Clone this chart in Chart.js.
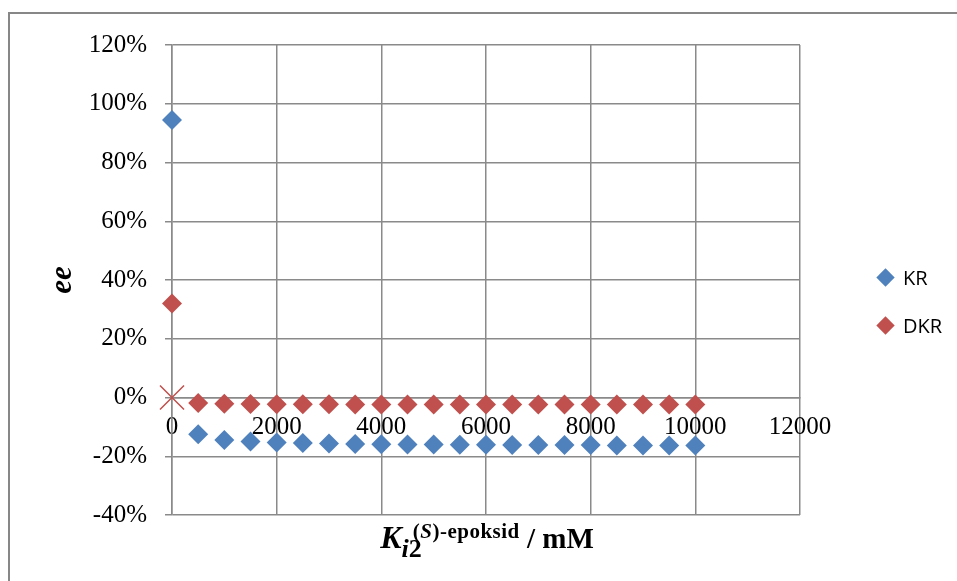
<!DOCTYPE html>
<html>
<head>
<meta charset="utf-8">
<script src="https://cdn.jsdelivr.net/npm/chart.js@4.4.0/dist/chart.umd.min.js"></script>
<style>
  html, body { margin: 0; padding: 0; background: #fff; overflow: hidden; }
  #wrap { position: relative; width: 957px; height: 581px; }
  #frame { position: absolute; left: 8px; top: 12px; width: 1200px; height: 800px;
           border-left: 2px solid #878787; border-top: 2px solid #878787; }
  canvas { position: absolute; left: 0; top: 0; }
  #xtitle { position: absolute; left: 487px; top: 522px; transform: translateX(-50%);
            font-family: 'Liberation Serif', serif; font-weight: bold; white-space: nowrap;
            line-height: 30px; font-size: 32px; color: #000; }
  #xtitle .sub { font-size: 26px; position: relative; top: 9px; }
  #xtitle .sup { font-size: 21px; position: relative; top: -10px; margin-left: -9px; letter-spacing: 0.5px; }
  #xtitle .unit { font-size: 29px; }
  .leg-item { position: absolute; left: 876px; height: 26px; display: flex; align-items: center;
              font-family: 'Open Sans', sans-serif; font-size: 20px; color: #000; }
  .leg-mark { width: 13px; height: 13px; transform: rotate(45deg); margin: 0 11px 0 3px; }
</style>
</head>
<body>
<div id="wrap">
  <div id="frame"></div>
  <canvas id="chart" width="957" height="581"></canvas>
  <div id="xtitle"><i>K</i><span class="sub"><i>i</i>2</span><span class="sup">(<i>S</i>)-epoksid</span><span class="unit"> / mM</span></div>
</div>
<script>
// Ki2 values (mM)
const xValues = [0, 500, 1000, 1500, 2000, 2500, 3000, 3500, 4000, 4500, 5000,
                 5500, 6000, 6500, 7000, 7500, 8000, 8500, 9000, 9500, 10000];
// ee, KR
const krValues = [0.945, -0.125, -0.145, -0.150, -0.153, -0.155, -0.157, -0.158, -0.159, -0.160, -0.160,
                  -0.161, -0.161, -0.162, -0.162, -0.162, -0.162, -0.163, -0.163, -0.163, -0.163];
// ee, DKR
const dkrValues = [0.32, -0.019, -0.021, -0.022, -0.023, -0.023, -0.023, -0.024, -0.024, -0.024, -0.024,
                   -0.024, -0.024, -0.024, -0.024, -0.024, -0.024, -0.024, -0.024, -0.024, -0.024];
// lone cross marker at the origin
const crossX = [0];
const crossY = [0];

const seriesNames = ['KR', 'DKR'];
const seriesColors = ['#4F81BD', '#C0504D'];

const xTicks = [0, 2000, 4000, 6000, 8000, 10000, 12000];
const yTicks = [-0.4, -0.2, 0, 0.2, 0.4, 0.6, 0.8, 1.0, 1.2];

const gridColor = '#8a8a8a';
const tickFont = { family: "'Liberation Serif', serif", size: 25 };

const toPoints = (xs, ys) => xs.map((x, i) => ({ x: x, y: ys[i] }));

const ctx = document.getElementById('chart').getContext('2d');
new Chart(ctx, {
    type: 'scatter',
    data: {
        datasets: [
            {
                label: seriesNames[0],
                data: toPoints(xValues, krValues),
                pointStyle: 'rectRot',
                pointRadius: 10,
                backgroundColor: seriesColors[0],
                borderColor: seriesColors[0],
                borderWidth: 0,
                clip: false
            },
            {
                label: seriesNames[1],
                data: toPoints(xValues, dkrValues),
                pointStyle: 'rectRot',
                pointRadius: 10,
                backgroundColor: seriesColors[1],
                borderColor: seriesColors[1],
                borderWidth: 0,
                clip: false
            },
            {
                label: '',
                data: toPoints(crossX, crossY),
                pointStyle: 'crossRot',
                pointRadius: 17,
                borderColor: seriesColors[1],
                borderWidth: 1.5,
                clip: false
            }
        ]
    },
    options: {
        responsive: false,
        animation: false,
        devicePixelRatio: 1,
        layout: { padding: { top: 45, bottom: 66, left: 0, right: 157 } },
        plugins: {
            legend: { display: false },
            tooltip: { enabled: false }
        },
        scales: {
            x: {
                type: 'linear',
                position: { y: 0 },
                min: 0,
                max: 12000,
                afterBuildTicks: scale => { scale.ticks = xTicks.map(v => ({ value: v })); },
                grid: { color: gridColor, lineWidth: 1.5, drawTicks: false },
                border: { color: gridColor, width: 1.5 },
                ticks: {
                    font: tickFont,
                    color: '#000',
                    padding: 15,
                    maxRotation: 0,
                    autoSkip: false,
                    callback: v => String(v)
                }
            },
            y: {
                type: 'linear',
                min: -0.4,
                max: 1.2,
                afterBuildTicks: scale => { scale.ticks = yTicks.map(v => ({ value: v })); },
                afterFit: scale => { scale.width = 172; },
                grid: { color: gridColor, lineWidth: 1.5, tickLength: 7 },
                border: { color: gridColor, width: 1.5 },
                ticks: {
                    font: tickFont,
                    color: '#000',
                    padding: 18,
                    callback: v => Math.round(v * 100) + '%'
                },
                title: {
                    display: true,
                    text: 'ee',
                    color: '#000',
                    font: { family: "'Liberation Serif', serif", size: 31, style: 'italic', weight: 'bold' },
                    padding: { top: 44, bottom: 0 }
                }
            }
        }
    }
});

// legend, built from the series names and colours
const wrap = document.getElementById('wrap');
seriesNames.forEach((name, i) => {
    const item = document.createElement('div');
    item.className = 'leg-item';
    item.style.top = (277 + 48 * i - 13) + 'px';
    const mark = document.createElement('span');
    mark.className = 'leg-mark';
    mark.style.background = seriesColors[i];
    const label = document.createElement('span');
    label.textContent = name;
    item.appendChild(mark);
    item.appendChild(label);
    wrap.appendChild(item);
});
</script>
</body>
</html>
